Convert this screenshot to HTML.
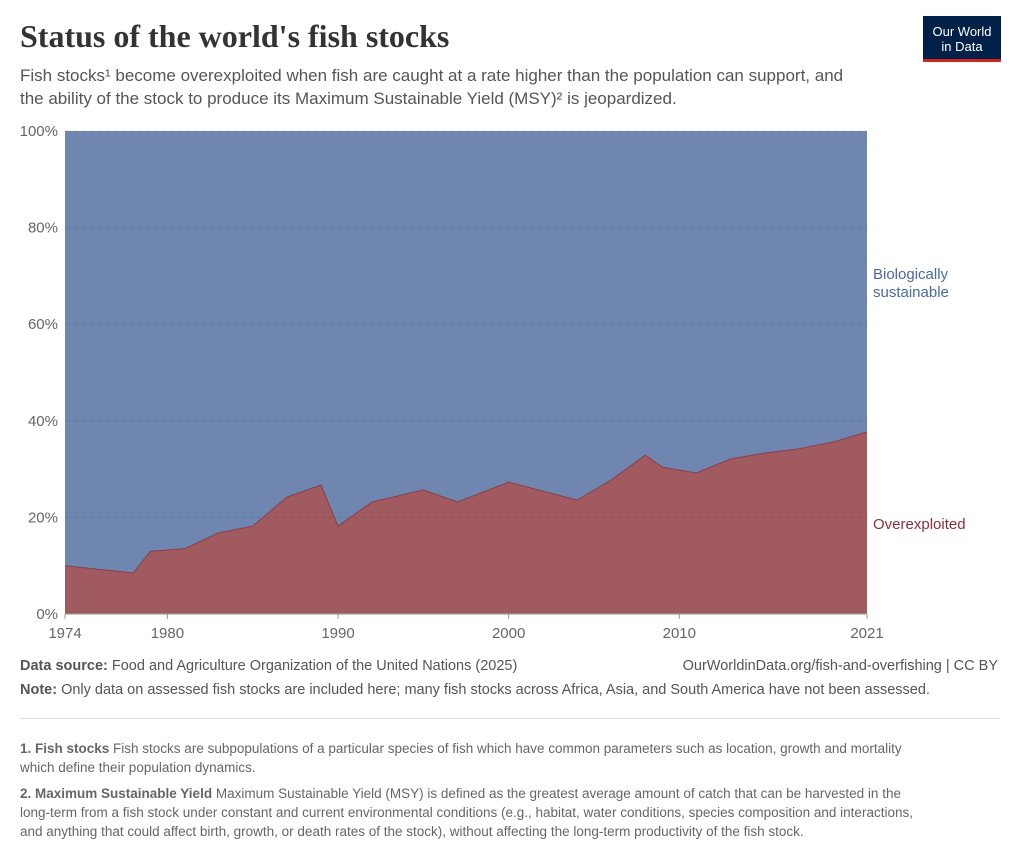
<!DOCTYPE html>
<html><head><meta charset="utf-8"><style>
body{margin:0;width:1020px;height:857px;background:#fff;font-family:"Liberation Sans",sans-serif;position:relative;overflow:hidden}
.t{position:absolute;white-space:nowrap}
</style></head><body>
<div class="t" style="left:20px;top:18px;font-family:'Liberation Serif',serif;font-size:32px;font-weight:bold;color:#333">Status of the world's fish stocks</div>
<div class="t" style="left:20px;top:64px;font-size:17px;line-height:23px;color:#555">Fish stocks¹ become overexploited when fish are caught at a rate higher than the population can support, and<br>the ability of the stock to produce its Maximum Sustainable Yield (MSY)² is jeopardized.</div>
<div style="position:absolute;left:923px;top:16px;width:78px;height:46px;background:#002147;border-bottom:3px solid #ce261e;color:#fff;font-size:13px;line-height:15px;text-align:center;box-sizing:border-box;padding-top:8px">Our World<br>in Data</div>
<svg id="chart" style="position:absolute;left:0;top:0" width="1020" height="650"></svg>
<div class="t" style="left:20px;top:658px;font-size:14.5px;color:#555"><b>Data source:</b> Food and Agriculture Organization of the United Nations (2025)</div>
<div class="t" style="right:22px;top:658px;font-size:14.5px;color:#555">OurWorldinData.org/fish-and-overfishing | CC BY</div>
<div class="t" style="left:20px;top:682px;font-size:14.5px;color:#555"><b>Note:</b> Only data on assessed fish stocks are included here; many fish stocks across Africa, Asia, and South America have not been assessed.</div>
<div style="position:absolute;left:20px;top:718px;width:980px;height:1px;background:#ddd"></div>
<div class="t" style="left:20px;top:739px;font-size:13.5px;line-height:19px;color:#666"><b>1. Fish stocks</b> Fish stocks are subpopulations of a particular species of fish which have common parameters such as location, growth and mortality<br>which define their population dynamics.</div>
<div class="t" style="left:20px;top:784px;font-size:13.5px;line-height:19px;color:#666"><b>2. Maximum Sustainable Yield</b> Maximum Sustainable Yield (MSY) is defined as the greatest average amount of catch that can be harvested in the<br>long-term from a fish stock under constant and current environmental conditions (e.g., habitat, water conditions, species composition and interactions,<br>and anything that could affect birth, growth, or death rates of the stock), without affecting the long-term productivity of the fish stock.</div>
<script>
const years=[1974,1978,1979,1981,1983,1985,1987,1989,1990,1992,1995,1997,2000,2004,2006,2008,2009,2011,2013,2015,2017,2019,2021];
const overexploited=[10,8.5,13,13.5,16.8,18.2,24.2,26.7,18.2,23.2,25.7,23.2,27.3,23.6,27.7,32.9,30.4,29.2,32.1,33.3,34.2,35.6,37.7];
const yTicks=[0,20,40,60,80,100];
const xTicks=[1974,1980,1990,2000,2010,2021];
const NS="http://www.w3.org/2000/svg";
const svg=document.getElementById('chart');
const x=v=>65+(v-1974)/(2021-1974)*802;
const y=v=>614-v/100*483;
function mk(t,a){const e=document.createElementNS(NS,t);for(const k in a)e.setAttribute(k,a[k]);svg.appendChild(e);return e;}
const topEdge="M"+x(years[0])+","+y(100)+" L"+x(years[years.length-1])+","+y(100);
const pts=years.map((yr,i)=>x(yr)+","+y(overexploited[i]));
const sus=mk('path',{d:topEdge+" L"+pts.slice().reverse().join(" L")+" Z",fill:'#6f87b0'});


const ov=mk('path',{d:"M"+x(years[0])+","+y(0)+" L"+pts.join(" L")+" L"+x(years[years.length-1])+","+y(0)+" Z",fill:'#a05a60'});


const ln=mk('polyline',{points:pts.join(" "),fill:'none',stroke:'#8a3f48','stroke-width':1});


yTicks.forEach(v=>{
 if(v>0){const l=mk('line',{x1:65,x2:867,y1:y(v),y2:y(v),stroke:'rgba(0,0,0,0.12)','stroke-dasharray':'4,4'});
 
 }
 const t=mk('text',{x:58,y:y(v)+5,'text-anchor':'end','font-size':15,fill:'#666'});t.textContent=v+'%';
 
 
});
const ax=mk('line',{x1:65,x2:867,y1:614,y2:614,stroke:'#999'});


xTicks.forEach(v=>{
 const tk=mk('line',{x1:x(v),x2:x(v),y1:614,y2:619,stroke:'#999'});
 
 
 const t=mk('text',{x:x(v),y:638,'text-anchor':'middle','font-size':15,fill:'#666'});t.textContent=v;
 
 
});
[['Biologically',279,'#4a6a9e'],['sustainable',297,'#4a6a9e'],['Overexploited',529,'#8a2e3a']].forEach(d=>{
 const t=mk('text',{x:873,y:d[1],'font-size':15,fill:d[2]});t.textContent=d[0];
 
 
});
</script>
</body></html>
